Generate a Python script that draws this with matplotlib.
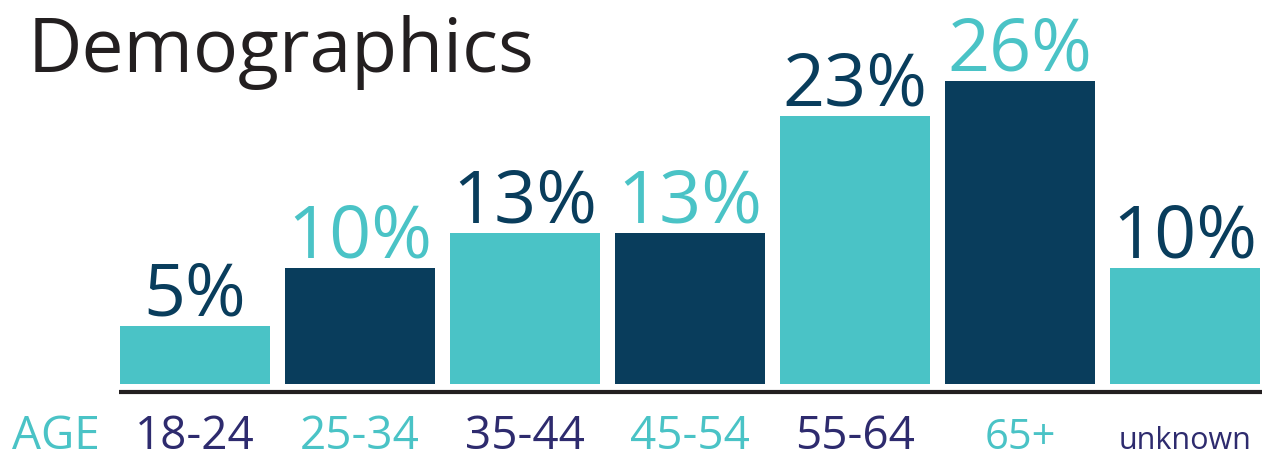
import matplotlib.pyplot as plt
from matplotlib.lines import Line2D
from matplotlib.transforms import blended_transform_factory

# ============================================================
# DATA
# ============================================================

age_groups = ["18-24", "25-34", "35-44", "45-54", "55-64", "65+", "unknown"]
percent = [5, 10, 13, 13, 23, 26, 10]

# ============================================================
# STYLE
# ============================================================

TEAL = "#4AC3C6"
NAVY = "#093D5C"
PURPLE = "#2E2B6E"
INK = "#231F20"

plt.rcParams['font.family'] = ['Open Sans', 'DejaVu Sans']

bar_colors = [TEAL if i % 2 == 0 else NAVY for i in range(len(percent))]
label_colors = [NAVY if i % 2 == 0 else TEAL for i in range(len(percent))]
tick_colors = [PURPLE if i % 2 == 0 else TEAL for i in range(len(age_groups))]
tick_sizes = [33, 33, 33, 33, 33, 30, 22]

# ============================================================
# FIGURE
# ============================================================

fig = plt.figure(figsize=(12.71, 4.6), dpi=100)

ax = fig.add_axes([112.5 / 1271, 75 / 460, 1155 / 1271, 349.5 / 460])

x = list(range(len(percent)))

ax.bar(x, percent, width=150 / 165, color=bar_colors)

ax.set_xlim(-0.5, len(percent) - 0.5)
ax.set_ylim(0, 30)
ax.axis('off')

# ------------------------------------------------------------
# VALUE LABELS
# ------------------------------------------------------------

for i, v in enumerate(percent):

    ax.annotate(
        f"{v}%",
        (i, v),
        xytext=(0, 8),
        textcoords='offset points',
        ha='center',
        va='baseline',
        fontsize=53,
        color=label_colors[i]
    )

# ------------------------------------------------------------
# BASELINE
# ------------------------------------------------------------

fig.add_artist(Line2D(
    [119 / 1271, 1262 / 1271],
    [1 - 393 / 460, 1 - 393 / 460],
    color=INK,
    linewidth=3,
    solid_capstyle='butt'
))

# ------------------------------------------------------------
# AGE LABELS
# ------------------------------------------------------------

trans = blended_transform_factory(ax.transData, fig.transFigure)

for i, name in enumerate(age_groups):

    ax.text(
        i,
        1 - 449 / 460,
        name,
        transform=trans,
        ha='center',
        va='baseline',
        fontsize=tick_sizes[i],
        color=tick_colors[i]
    )

fig.text(
    12 / 1271,
    1 - 449 / 460,
    "AGE",
    ha='left',
    va='baseline',
    fontsize=33,
    color=TEAL
)

# ------------------------------------------------------------
# TITLE
# ------------------------------------------------------------

fig.text(
    28 / 1271,
    1 - 72 / 460,
    "Demographics",
    ha='left',
    va='baseline',
    fontsize=54,
    color=INK
)

fig.savefig("out.png", dpi=100)
